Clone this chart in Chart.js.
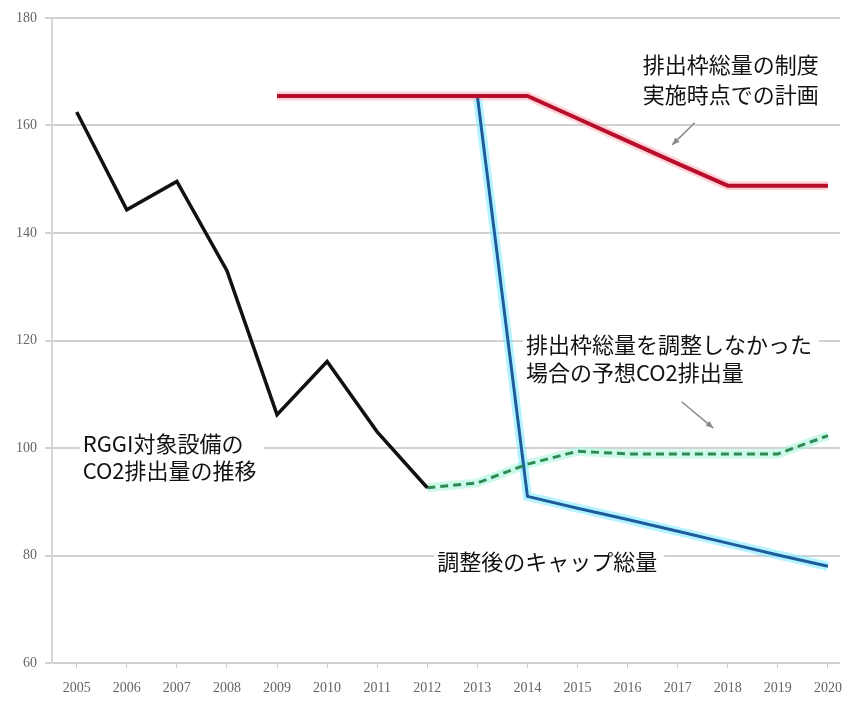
<!DOCTYPE html>
<html>
<head>
<meta charset="utf-8">
<script src="https://cdn.jsdelivr.net/npm/chart.js@4"></script>
<style>
  html, body { margin: 0; padding: 0; background: #fff; }
  #wrap { width: 854px; height: 707px; }
</style>
</head>
<body>
<div id="wrap"><canvas id="rggiChart" width="854" height="707"></canvas></div>
<script>
// 年
const years = [2005, 2006, 2007, 2008, 2009, 2010, 2011, 2012, 2013, 2014, 2015, 2016, 2017, 2018, 2019, 2020];
// RGGI対象設備のCO2排出量
const emissions = [162.5, 144.3, 149.6, 133.0, 106.2, 116.1, 103.0, 92.6, null, null, null, null, null, null, null, null];
// 排出枠総量を調整しなかった場合の予想
const projected = [null, null, null, null, null, null, null, 92.6, 93.5, 97.0, 99.4, 98.9, 98.9, 98.9, 98.9, 102.3];
// 制度実施時点での計画
const planCap = [null, null, null, null, 165.5, 165.5, 165.5, 165.5, 165.5, 165.5, 161.3, 157.1, 152.9, 148.8, 148.8, 148.8];
// 調整後のキャップ総量
const adjustedCap = [null, null, null, null, null, null, null, null, 165.5, 91.0, 88.8, 86.7, 84.5, 82.3, 80.1, 78.0];
const yTicks = [60, 80, 100, 120, 140, 160, 180];

// 注記（位置はデータ単位）
const notes = [
  { lines: ['排出枠総量の制度', '実施時点での計画'], x: 2016.3, y: [171.3, 165.8] },
  { lines: ['排出枠総量を調整しなかった', '場合の予想CO2排出量'], x: 2013.97, y: [119.2, 114.0] },
  { lines: ['RGGI対象設備の', 'CO2排出量の推移'], x: 2005.12, y: [100.8, 95.8] },
  { lines: ['調整後のキャップ総量'], x: 2012.2, y: [78.8] }
];
const arrows = [
  { from: [2017.34, 160.5], to: [2016.89, 156.4] },
  { from: [2017.08, 108.6], to: [2017.71, 103.7] }
];

const pts = vals => years.map((yr, i) => ({ x: yr, y: vals[i] }));

const noteFont = '22px "Noto Sans CJK JP", "Noto Sans", sans-serif';

const notePlugin = {
  id: 'notes',
  beforeDatasetsDraw(chart) {
    const { ctx, scales: { x, y } } = chart;
    ctx.save();
    ctx.font = noteFont;
    ctx.textBaseline = 'middle';
    notes.forEach(n => {
      const left = x.getPixelForValue(n.x);
      const w = Math.max(...n.lines.map(l => ctx.measureText(l).width));
      const top = y.getPixelForValue(n.y[0]) - 14;
      const bottom = y.getPixelForValue(n.y[n.y.length - 1]) + 15;
      ctx.fillStyle = '#fff';
      ctx.fillRect(left - 3, top, w + 10, bottom - top);
      ctx.fillStyle = '#111';
      n.lines.forEach((l, i) => ctx.fillText(l, left, y.getPixelForValue(n.y[i])));
    });
    ctx.restore();
  },
  afterDatasetsDraw(chart) {
    const { ctx, scales: { x, y } } = chart;
    ctx.save();
    ctx.strokeStyle = '#8a8a8a';
    ctx.fillStyle = '#8a8a8a';
    ctx.lineWidth = 1.5;
    arrows.forEach(a => {
      const x1 = x.getPixelForValue(a.from[0]), y1 = y.getPixelForValue(a.from[1]);
      const x2 = x.getPixelForValue(a.to[0]), y2 = y.getPixelForValue(a.to[1]);
      const ang = Math.atan2(y2 - y1, x2 - x1);
      ctx.beginPath();
      ctx.moveTo(x1, y1);
      ctx.lineTo(x2, y2);
      ctx.stroke();
      ctx.beginPath();
      ctx.moveTo(x2, y2);
      ctx.lineTo(x2 - 8 * Math.cos(ang - 0.4), y2 - 8 * Math.sin(ang - 0.4));
      ctx.lineTo(x2 - 8 * Math.cos(ang + 0.4), y2 - 8 * Math.sin(ang + 0.4));
      ctx.closePath();
      ctx.fill();
    });
    ctx.restore();
  }
};

const line = (data, color, width, extra) => Object.assign({
  data: pts(data),
  borderColor: color,
  borderWidth: width,
  pointRadius: 0,
  tension: 0,
  fill: false,
  spanGaps: false
}, extra || {});

new Chart(document.getElementById('rggiChart'), {
  type: 'line',
  data: {
    datasets: [
      // 本線（上に描く）
      line(emissions, '#111111', 3.5),
      line(projected, '#2f8a55', 3, { borderDash: [8, 5] }),
      line(planCap, '#b8102c', 4),
      line(adjustedCap, '#1f5c9c', 3),
      // にじみ（下地）
      line(planCap, 'rgba(255,170,180,0.5)', 9),
      line(adjustedCap, 'rgba(130,235,255,0.6)', 9),
      line(projected, 'rgba(170,245,220,0.6)', 9)
    ]
  },
  options: {
    responsive: false,
    animation: false,
    layout: { padding: { top: 18, right: 4, left: 0, bottom: 0 } },
    plugins: { legend: { display: false }, tooltip: { enabled: false } },
    scales: {
      x: {
        type: 'linear',
        min: 2004.507,
        max: 2020.24,
        afterFit: s => { s.height = 44; },
        afterBuildTicks: s => { s.ticks = years.map(v => ({ value: v })); },
        grid: { drawOnChartArea: false, tickLength: 5, color: '#cfcfcf' },
        border: { color: '#cfcfcf', width: 2 },
        ticks: {
          padding: 12,
          maxRotation: 0,
          autoSkip: false,
          color: '#666',
          font: { family: '"Liberation Serif", serif', size: 14 },
          callback: v => String(v)
        }
      },
      y: {
        min: 60,
        max: 180,
        afterFit: s => { s.width = 52; },
        afterBuildTicks: s => { s.ticks = yTicks.map(v => ({ value: v })); },
        grid: { color: '#d2d2d2', lineWidth: 2, tickLength: 7 },
        border: { color: '#d6d6d6', width: 2 },
        ticks: {
          padding: 8,
          color: '#666',
          font: { family: '"Liberation Serif", serif', size: 14 }
        }
      }
    }
  },
  plugins: [notePlugin]
});
</script>
</body>
</html>
